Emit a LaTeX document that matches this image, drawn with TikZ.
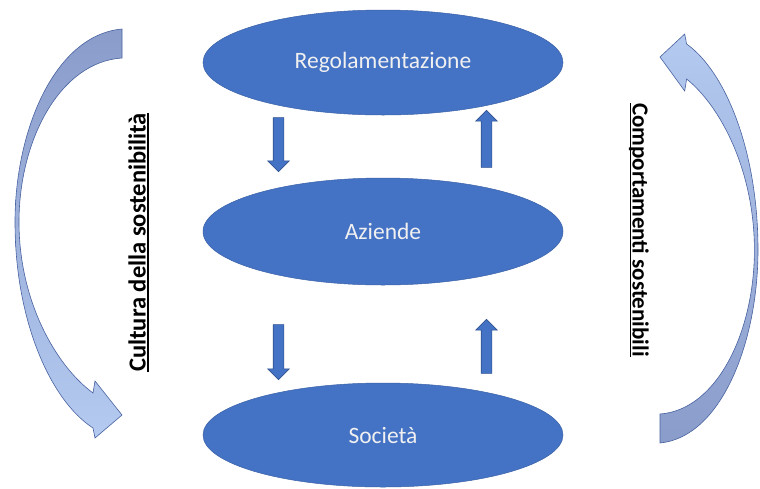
\documentclass[tikz,border=0pt]{standalone}
\usepackage{fontspec}
\setmainfont{Carlito}
\usetikzlibrary{shapes.geometric,shapes.arrows}
\definecolor{obl}{HTML}{4472C4}
\definecolor{odk}{HTML}{2F528F}
\definecolor{adark}{RGB}{138,156,202}
\definecolor{alight}{RGB}{180,202,240}
\definecolor{aedge}{RGB}{72,98,160}
\newcommand{\myul}[1]{\setbox0\hbox{#1}\rlap{\rule[-3pt]{\wd0}{1.6pt}}\box0}
\begin{document}
\begin{tikzpicture}[x=1pt,y=-1pt,
  oval/.style={ellipse, fill=obl, draw=obl!85!black, line width=0.5pt, minimum width=360pt, inner sep=0pt, text=white!94!black, font=\fontsize{23.5}{28}\selectfont},
  blockarrow/.style={single arrow, fill=obl, draw=odk, line width=0.6pt, inner sep=5pt, single arrow head extend=5.5pt, single arrow head indent=0pt, single arrow tip angle=90, minimum width=0pt},
  biglabel/.style={inner sep=0pt},
  bigarrow/.style={draw=aedge, line width=0.6pt}
]
\useasboundingbox (0,0) rectangle (760,488);
\fill[white] (0,0) rectangle (760,488);

% big curved arrows
\path[bigarrow, top color=adark, bottom color=alight]
  (122,29) .. controls (55,35) and (15,130) .. (15,222)
  .. controls (15,320) and (50,400) .. (93,428)
  -- (95,438) -- (122,415) -- (95,381) -- (93,393)
  .. controls (55,365) and (19,300) .. (19,222)
  .. controls (19,140) and (60,62) .. (122,58) -- cycle;
\path[bigarrow, top color=alight, bottom color=adark]
  (660,443) .. controls (721.4,437) and (758,342) .. (758,250)
  .. controls (758,152) and (726,72) .. (686.6,44)
  -- (684.7,34) -- (660,57) -- (684.7,91) -- (686.6,79)
  .. controls (721.4,107) and (754.4,172) .. (754.4,250)
  .. controls (754.4,332) and (716.8,410) .. (660,414) -- cycle;

% ellipses
\node[oval, minimum height=105pt] (reg) at (383,62.5) {Regolamentazione};
\node[oval, minimum height=107pt] (az) at (383,231.5) {Aziende};
\node[oval, minimum height=104pt] (soc) at (383,435) {Società};

% block arrows
\node[blockarrow, rotate=-90, minimum height=54pt] (d1) at (278.5,142) {};
\node[blockarrow, rotate=90, minimum height=57pt] (u1) at (486.5,141.5) {};
\node[blockarrow, rotate=-90, minimum height=55pt] (d2) at (278.5,349.5) {};
\node[blockarrow, rotate=90, minimum height=54pt] (u2) at (486.5,349) {};

% labels
\node[biglabel, rotate=90, font=\fontsize{24.5}{28}\selectfont\bfseries] (cult) at (138.5,242.5) {\myul{Cultura della sostenibilità}};
\node[biglabel, rotate=-90, font=\fontsize{23}{27}\selectfont\bfseries] (comp) at (639,230) {\myul{Comportamenti sostenibili}};
\end{tikzpicture}
\end{document}
